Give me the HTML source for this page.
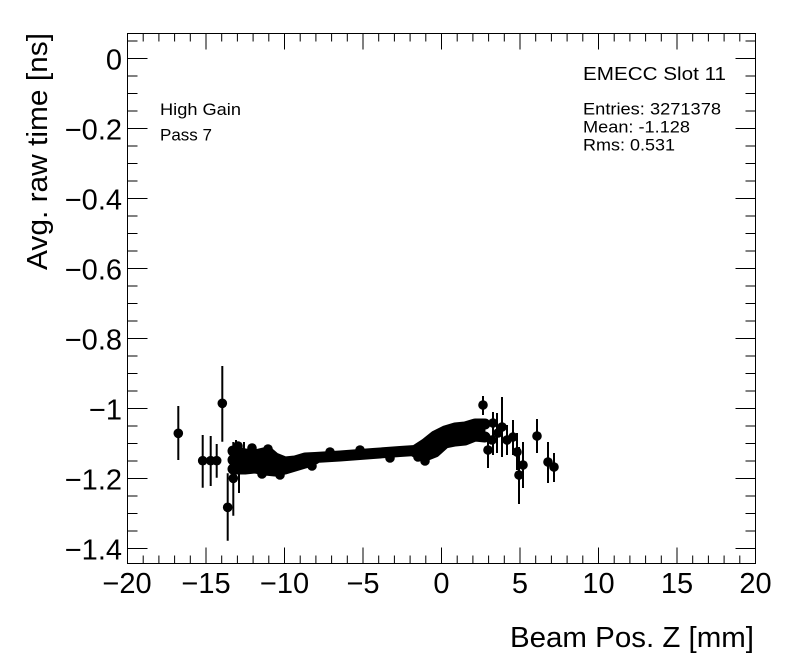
<!DOCTYPE html>
<html><head><meta charset="utf-8"><style>
html,body{margin:0;padding:0;background:#fff;}
svg{display:block;}
text{font-family:"Liberation Sans",Arial,sans-serif;fill:#000;}
</style></head><body>
<svg width="796" height="672" viewBox="0 0 796 672" xmlns="http://www.w3.org/2000/svg">
<rect width="796" height="672" fill="#fff"/>
<!-- frame -->
<rect x="127.5" y="33.5" width="628" height="530" fill="none" stroke="#000" stroke-width="1"/>
<!-- ticks -->
<path fill="none" stroke="#000" stroke-width="1" d="
M206 563.5v-16M284.5 563.5v-16M363 563.5v-16M441.5 563.5v-16M520 563.5v-16M598.5 563.5v-16M677 563.5v-16
M206 33.5v16M284.5 33.5v16M363 33.5v16M441.5 33.5v16M520 33.5v16M598.5 33.5v16M677 33.5v16
M143.2 563.5v-8M158.9 563.5v-8M174.6 563.5v-8M190.3 563.5v-8M221.7 563.5v-8M237.4 563.5v-8M253.1 563.5v-8M268.8 563.5v-8M300.2 563.5v-8M315.9 563.5v-8M331.6 563.5v-8M347.3 563.5v-8M378.7 563.5v-8M394.4 563.5v-8M410.1 563.5v-8M425.8 563.5v-8M457.2 563.5v-8M472.9 563.5v-8M488.6 563.5v-8M504.3 563.5v-8M535.7 563.5v-8M551.4 563.5v-8M567.1 563.5v-8M582.8 563.5v-8M614.2 563.5v-8M629.9 563.5v-8M645.6 563.5v-8M661.3 563.5v-8M692.7 563.5v-8M708.4 563.5v-8M724.1 563.5v-8M739.8 563.5v-8
M143.2 33.5v8M158.9 33.5v8M174.6 33.5v8M190.3 33.5v8M221.7 33.5v8M237.4 33.5v8M253.1 33.5v8M268.8 33.5v8M300.2 33.5v8M315.9 33.5v8M331.6 33.5v8M347.3 33.5v8M378.7 33.5v8M394.4 33.5v8M410.1 33.5v8M425.8 33.5v8M457.2 33.5v8M472.9 33.5v8M488.6 33.5v8M504.3 33.5v8M535.7 33.5v8M551.4 33.5v8M567.1 33.5v8M582.8 33.5v8M614.2 33.5v8M629.9 33.5v8M645.6 33.5v8M661.3 33.5v8M692.7 33.5v8M708.4 33.5v8M724.1 33.5v8M739.8 33.5v8
M127.5 58.5h20M127.5 128.5h20M127.5 198.5h20M127.5 268.5h20M127.5 338.5h20M127.5 408.5h20M127.5 478.5h20M127.5 548.5h20
M755.5 58.5h-20M755.5 128.5h-20M755.5 198.5h-20M755.5 268.5h-20M755.5 338.5h-20M755.5 408.5h-20M755.5 478.5h-20M755.5 548.5h-20
M127.5 41h10M127.5 76h10M127.5 93.5h10M127.5 111h10M127.5 146h10M127.5 163.5h10M127.5 181h10M127.5 216h10M127.5 233.5h10M127.5 251h10M127.5 286h10M127.5 303.5h10M127.5 321h10M127.5 356h10M127.5 373.5h10M127.5 391h10M127.5 426h10M127.5 443.5h10M127.5 461h10M127.5 496h10M127.5 513.5h10M127.5 531h10
M755.5 41h-10M755.5 76h-10M755.5 93.5h-10M755.5 111h-10M755.5 146h-10M755.5 163.5h-10M755.5 181h-10M755.5 216h-10M755.5 233.5h-10M755.5 251h-10M755.5 286h-10M755.5 303.5h-10M755.5 321h-10M755.5 356h-10M755.5 373.5h-10M755.5 391h-10M755.5 426h-10M755.5 443.5h-10M755.5 461h-10M755.5 496h-10M755.5 513.5h-10M755.5 531h-10
"/>
<!-- y tick labels -->
<g font-size="29" text-anchor="end">
<text x="122" y="69.5">0</text>
<text x="122" y="139.5">−0.2</text>
<text x="122" y="209.5">−0.4</text>
<text x="122" y="279.5">−0.6</text>
<text x="122" y="349.5">−0.8</text>
<text x="122" y="419.5">−1</text>
<text x="122" y="489.5">−1.2</text>
<text x="122" y="559.5">−1.4</text>
</g>
<!-- x tick labels -->
<g font-size="29" text-anchor="middle">
<text x="127" y="593">−20</text>
<text x="206" y="593">−15</text>
<text x="284.5" y="593">−10</text>
<text x="363" y="593">−5</text>
<text x="441.5" y="593">0</text>
<text x="520" y="593">5</text>
<text x="598.5" y="593">10</text>
<text x="677" y="593">15</text>
<text x="755.5" y="593">20</text>
</g>
<!-- axis titles -->
<text x="754" y="647" font-size="29" text-anchor="end" textLength="244" lengthAdjust="spacingAndGlyphs">Beam Pos. Z [mm]</text>
<text transform="translate(47,33) rotate(-90)" font-size="29" text-anchor="end" textLength="237" lengthAdjust="spacingAndGlyphs">Avg. raw time [ns]</text>
<!-- annotations -->
<text x="160" y="115" font-size="17" textLength="81" lengthAdjust="spacingAndGlyphs">High Gain</text>
<text x="160" y="140.5" font-size="17" textLength="52" lengthAdjust="spacingAndGlyphs">Pass 7</text>
<text x="583" y="80" font-size="18" textLength="143" lengthAdjust="spacingAndGlyphs">EMECC Slot 11</text>
<text x="583" y="114.5" font-size="17" textLength="138" lengthAdjust="spacingAndGlyphs">Entries: 3271378</text>
<text x="583" y="132.5" font-size="17" textLength="107" lengthAdjust="spacingAndGlyphs">Mean: -1.128</text>
<text x="583" y="150.5" font-size="17" textLength="92" lengthAdjust="spacingAndGlyphs">Rms: 0.531</text>
<!-- data: error bars -->
<path fill="none" stroke="#000" stroke-width="2" d="
M178.3 406V460M202.7 435V487.7M210.7 436V486M216.7 444V477.7M222.3 366V441.7M227.7 473.3V540.7M233.3 442V515.7M239 450V493M236 440V470M244 442V466
M483 396V415M488 433V468M493 412V455M497 413V453M502 397V457M507 425V455M513 420V455M517 433V470M519 447V504M523 442V488M537 419V453M548 442V483M554 453V482M478 425V440M472 420V435
"/>
<!-- data: dense band -->
<g fill="none" stroke="#000" stroke-width="11" stroke-linecap="round" stroke-linejoin="round">
<polyline points="233,451 245,454 255,455 268,452 275,458 285,462 295,461 305,458 315,457.5 340,456 373,453.5 400,451.5 415,450.5 425,444 435,436 445,431 455,428 465,427 475,424 485,424"/>
<polyline points="233,469 245,469 255,468 265,470 275,471 285,469 295,466 305,463 315,459"/>
<polyline points="233,460 245,461 255,462 265,462 275,464 285,466 295,464 305,461"/>
<polyline points="415,452 425,456 435,452 445,443 455,441 465,440 475,436 485,437"/>
<polyline points="420,452 430,446 440,440 450,436 460,434 470,432 480,430"/>
</g>
<g fill="#000">
<circle cx="178.3" cy="433.3" r="4.8"/>
<circle cx="202.7" cy="460.7" r="4.8"/>
<circle cx="210.7" cy="460.7" r="4.8"/>
<circle cx="216.7" cy="460.7" r="4.8"/>
<circle cx="222.3" cy="403.3" r="4.8"/>
<circle cx="227.7" cy="507.3" r="4.8"/>
<circle cx="233.3" cy="478.3" r="4.8"/>
<circle cx="238" cy="446" r="4.8"/>
<circle cx="252" cy="448" r="4.8"/>
<circle cx="268" cy="449" r="4.8"/>
<circle cx="262" cy="474" r="4.8"/>
<circle cx="280" cy="475" r="4.8"/>
<circle cx="312" cy="466" r="4.8"/>
<circle cx="330" cy="452" r="4.8"/>
<circle cx="360" cy="450" r="4.8"/>
<circle cx="390" cy="458" r="4.8"/>
<circle cx="425" cy="461" r="4.8"/>
<circle cx="418" cy="457" r="4.8"/>
<circle cx="432" cy="445" r="4.8"/>
<circle cx="483" cy="405" r="4.8"/>
<circle cx="488" cy="450" r="4.8"/>
<circle cx="493" cy="423" r="4.8"/>
<circle cx="502" cy="427" r="4.8"/>
<circle cx="507" cy="440" r="4.8"/>
<circle cx="513" cy="437" r="4.8"/>
<circle cx="517" cy="452" r="4.8"/>
<circle cx="519" cy="475" r="4.8"/>
<circle cx="523" cy="465" r="4.8"/>
<circle cx="537" cy="436" r="4.8"/>
<circle cx="548" cy="462" r="4.8"/>
<circle cx="554" cy="467" r="4.8"/>
<circle cx="475" cy="432" r="4.8"/>
<circle cx="498" cy="433" r="4.8"/>
<circle cx="492" cy="440" r="4.8"/>
</g>
</svg>
</body></html>
